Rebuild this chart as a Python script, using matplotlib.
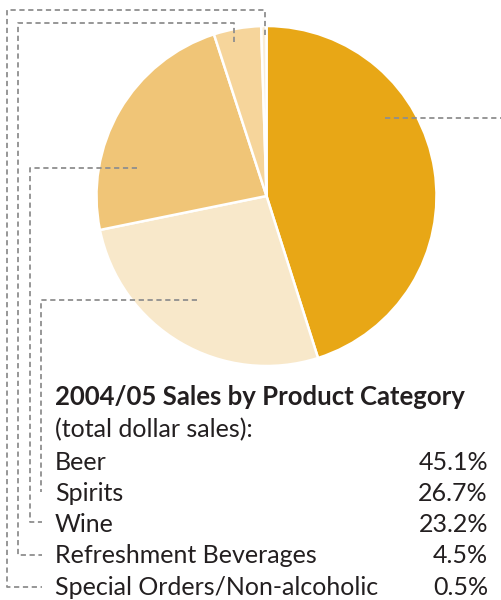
import matplotlib.pyplot as plt

categories = ['Beer', 'Spirits', 'Wine', 'Refreshment Beverages', 'Special Orders/Non-alcoholic']
shares = [45.1, 26.7, 23.2, 4.5, 0.5]
labels = ['45.1%', '26.7%', '23.2%', '4.5%', '0.5%']
colors = ['#E8A716', '#F8E8CA', '#F0C577', '#F6D59B', '#FAEDD6']

title = '2004/05 Sales by Product Category'
subtitle = '(total dollar sales):'

plt.rcParams['font.family'] = ['Lato', 'DejaVu Sans']

fig = plt.figure(figsize=(5.01, 6), dpi=100)

ax = fig.add_axes([96.5 / 501, 1 - 366 / 600, 340 / 501, 340 / 600])
ax.pie(shares, colors=colors, startangle=90, counterclock=False,
       wedgeprops=dict(edgecolor='white', linewidth=1.8))
ax.set_xlim(-1, 1)
ax.set_ylim(-1, 1)

# overlay in pixel coords for the leader lines and text (on top of the pie)
ov = fig.add_axes([0, 0, 1, 1])
ov.set_xlim(0, 501)
ov.set_ylim(600, 0)
ov.axis('off')

dash = dict(color='#8f8f8f', lw=1.3, linestyle=(0, (2.9, 2.0)))
# beer
ov.plot([385, 501], [118, 118], **dash)
# spirits
ov.plot([197, 41, 41], [300, 300, 492], **dash)
# wine
ov.plot([137, 30, 30, 42], [168, 168, 522, 522], **dash)
# refreshment
ov.plot([234, 234, 18, 18, 42], [42, 23, 23, 555, 555], **dash)
# special orders
ov.plot([265, 265, 7, 7, 42], [35, 10, 10, 587, 587], **dash)

txt = '#231f20'
ov.text(55, 397, title, fontsize=18.5, fontweight='bold', color=txt,
        va='center', ha='left')
ov.text(55, 430, subtitle, fontsize=18, color=txt, va='center', ha='left')
y0 = 462
for i, (c, l) in enumerate(zip(categories, labels)):
    y = y0 + i * 31.3
    ov.text(55, y, c, fontsize=18, color=txt, va='center', ha='left')
    ov.text(488, y, l, fontsize=18, color=txt, va='center', ha='right')

fig.savefig('out.png', dpi=100)
